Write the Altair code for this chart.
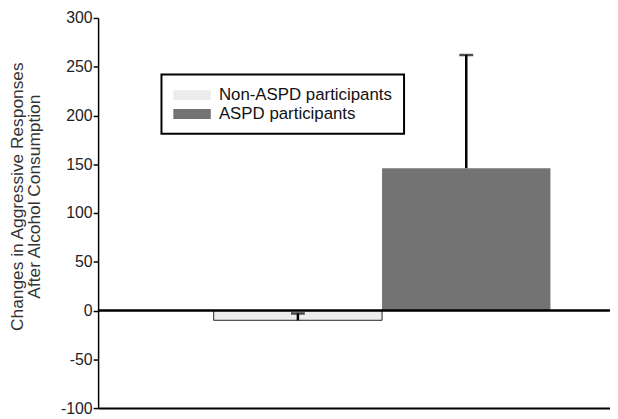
import altair as alt
import pandas as pd

groups = ["Non-ASPD participants", "ASPD participants"]
means = [-10, 146]
err_hi = [-3, 262]
colors = ["#ececec", "#737373"]
y_ticks = [-100, -50, 0, 50, 100, 150, 200, 250, 300]

df = pd.DataFrame({"group": groups, "mean": means, "hi": err_hi})

FONT = "Liberation Sans"

xs = alt.Scale(domain=groups, paddingInner=0, paddingOuter=0.52, align=0.66)
x = alt.X("group:N", scale=xs, sort=groups,
          axis=alt.Axis(labels=False, ticks=False, title=None, domain=True,
                        domainColor="black", domainWidth=2))
ys = alt.Scale(domain=[-100, 300], nice=False, zero=False)

bars = alt.Chart(df).mark_bar(stroke="#222", strokeWidth=1).encode(
    x=x,
    y=alt.Y("mean:Q", scale=ys,
            axis=alt.Axis(values=y_ticks, labelExpr="'' + datum.value",
                          title=["Changes in Aggressive Responses", "After Alcohol Consumption"],
                          grid=False, domainColor="black", domainWidth=1.5,
                          tickColor="black", tickSize=5, tickWidth=1.5,
                          labelFont=FONT, labelFontSize=16, labelColor="#222",
                          labelPadding=1,
                          titleFont=FONT, titleFontSize=17.5, titleFontWeight="normal",
                          titleColor="#333", titleLineHeight=17,
                          titleX=-72, titleY=180, titleAlign="center")),
    color=alt.Color("group:N", sort=groups,
                    scale=alt.Scale(domain=groups, range=colors),
                    legend=alt.Legend(title=None, orient="none", legendX=64, legendY=57,
                                      symbolType="M-1,-0.55h4.2v1.1h-4.2z", symbolSize=324,
                                      symbolStrokeWidth=0, labelFont=FONT, labelFontSize=17,
                                      labelColor="#111", rowPadding=2, padding=12,
                                      labelOffset=28, labelLimit=400, strokeColor="black",
                                      symbolOpacity=1)),
    strokeOpacity=alt.condition(alt.datum.group == groups[0], alt.value(1), alt.value(0)),
)

err = alt.Chart(df).mark_rule(color="black", strokeWidth=2.5).encode(
    x=x, y=alt.Y("mean:Q", scale=ys), y2="hi:Q")

caps = alt.Chart(df).mark_tick(color="black", thickness=2.5, size=14, orient="horizontal").encode(
    x=x, y=alt.Y("hi:Q", scale=ys))

zero = alt.Chart(df).mark_rule(color="black", strokeWidth=2).encode(y=alt.datum(0))

chart = alt.layer(bars, err, caps, zero).properties(
    width=517, height=394,
    autosize=alt.AutoSizeParams(type="none"),
    padding={"left": 91, "top": 8, "right": 0, "bottom": 9},
).configure_view(stroke=None).configure_legend(strokeWidth=2)

chart.save("out.html", embed_options={"renderer": "svg", "actions": False})
